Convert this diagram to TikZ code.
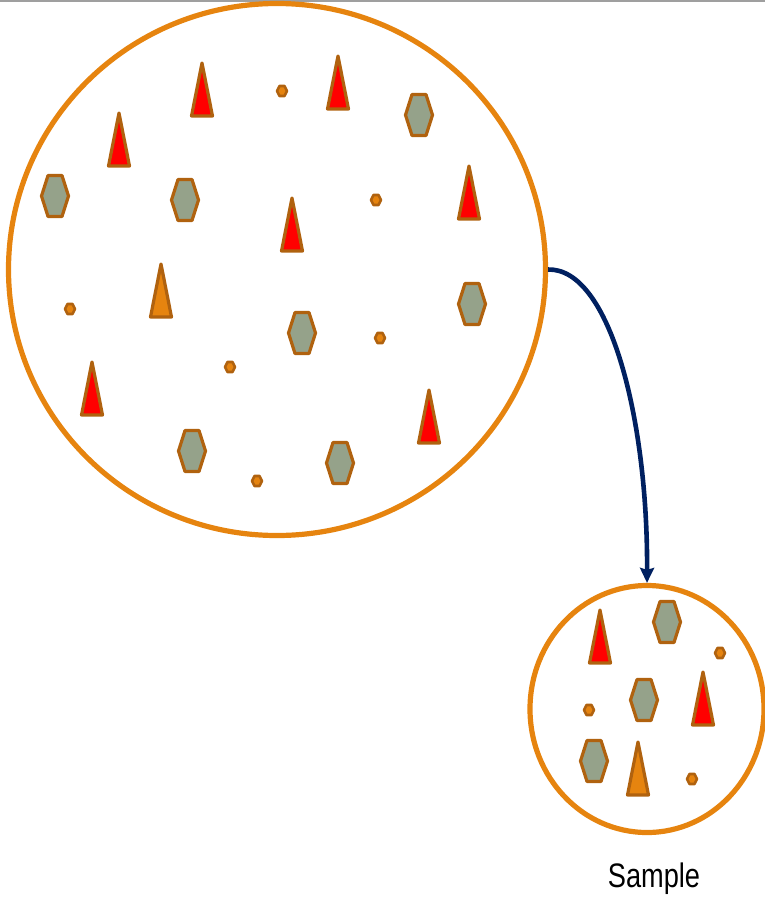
\documentclass[tikz,border=0pt]{standalone}
\usepackage{graphicx}
\usepackage{fontspec}
\setmainfont{Liberation Sans}
\usetikzlibrary{shapes.geometric,arrows.meta}
\definecolor{ringorange}{HTML}{E6840F}
\definecolor{outbrown}{HTML}{B0620F}
\definecolor{hexfill}{HTML}{95A28A}
\definecolor{navyarrow}{HTML}{002060}
\definecolor{tribright}{HTML}{FF0000}
\tikzset{
  ring/.style={draw=ringorange, line width=5.2, ellipse, inner sep=0, fill=none},
  outl/.style={draw=outbrown, line width=3.2, line join=round},
  smallhex/.style={draw=outbrown, line width=2.6, fill=ringorange, line join=round},
  link/.style={draw=navyarrow, line width=4.6, -{Stealth[length=15, width=14, inset=2]}},
}
\newcommand\mytri[3]{\draw[outl, fill=#3] (#1,#2) -- ++(10.5,53) -- ++(-21,0) -- cycle;}
\newcommand\myhex[2]{\draw[outl, fill=hexfill] (#1,#2) ++(-13.5,0) -- ++(6.5,-20.5) -- ++(14,0) -- ++(6.5,20.5) -- ++(-6.5,20.5) -- ++(-14,0) -- cycle;}
\newcommand\mysmall[2]{\draw[smallhex] (#1,#2) ++(-5,0) -- ++(2.5,-5) -- ++(5,0) -- ++(2.5,5) -- ++(-2.5,5) -- ++(-5,0) -- cycle;}
\begin{document}
\begin{tikzpicture}[x=1pt, y=-1pt]
\useasboundingbox (0,0) rectangle (765,903);
\draw[color=gray!75, line width=2] (0,1) -- (765,1);
% rings
\node[ring, minimum width=537, minimum height=532] (big) at (277,269.5) {};
\node[ring, minimum width=234, minimum height=247] (small) at (647,709) {};
% big ring contents
\mytri{202}{63}{tribright}
\mytri{338}{56}{tribright}
\mytri{119}{113}{tribright}
\mytri{469}{166}{tribright}
\mytri{292}{198}{tribright}
\mytri{161}{264}{ringorange}
\mytri{92}{362}{tribright}
\mytri{429}{390}{tribright}
\myhex{419}{115}
\myhex{55}{196}
\myhex{185}{200}
\myhex{472}{304}
\myhex{302}{333}
\myhex{192}{451}
\myhex{340}{463}
\mysmall{282}{91}
\mysmall{376}{200}
\mysmall{70}{309}
\mysmall{380}{338}
\mysmall{230}{367}
\mysmall{257}{481}
% small ring contents
\mytri{600}{610}{tribright}
\mytri{703}{672}{tribright}
\mytri{638}{742}{ringorange}
\myhex{667}{622}
\myhex{644}{700}
\myhex{594}{761}
\mysmall{720}{653}
\mysmall{589}{710}
\mysmall{692}{779}
% arrow
\draw[link] (big.east) .. controls (610,268) and (648,420) .. (small.north);
% label
\node[inner sep=0] (lbl) at (654,879) {\fontsize{34}{34}\selectfont\scalebox{0.8}[1]{Sample}};
\end{tikzpicture}
\end{document}
